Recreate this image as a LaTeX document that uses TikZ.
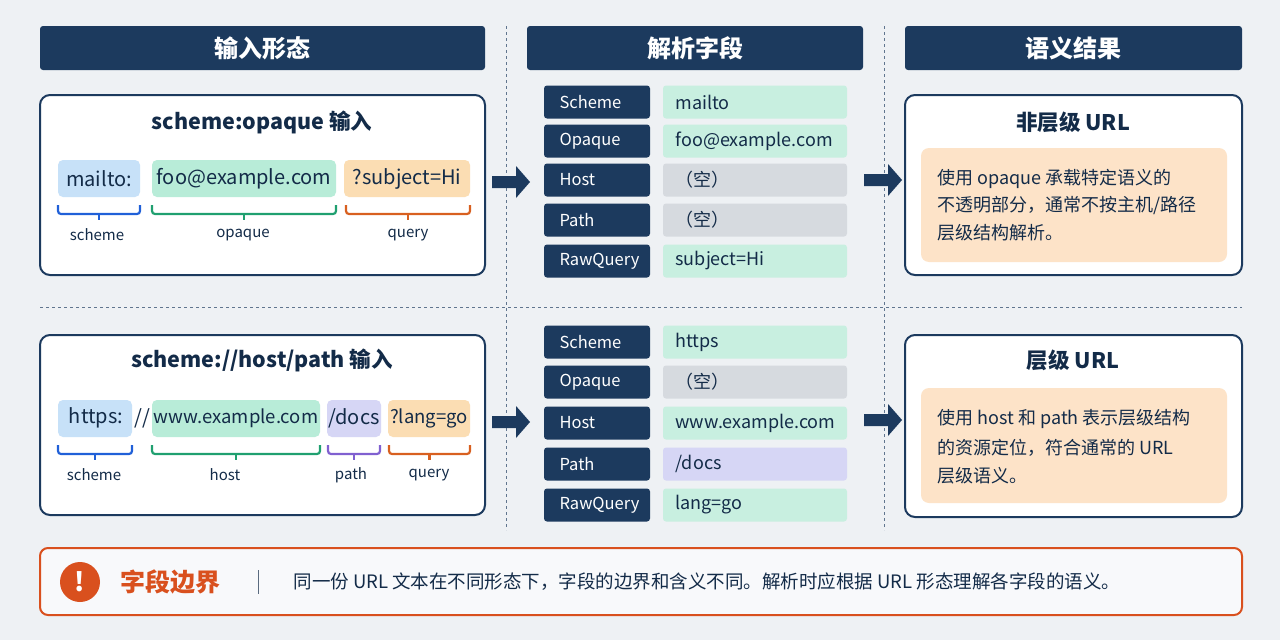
\documentclass[tikz,border=0pt]{standalone}
\usepackage{fontspec}
\setmainfont{Noto Sans CJK SC}
\definecolor{bg}{HTML}{EEF1F4}
\definecolor{navy}{HTML}{1C3A5E}
\definecolor{cblue}{HTML}{C7E1F8}
\definecolor{cgreen}{HTML}{B8ECD8}
\definecolor{corange}{HTML}{FBDDB3}
\definecolor{cpurple}{HTML}{D6D6F5}
\definecolor{cgray}{HTML}{D6DADF}
\definecolor{vgreen}{HTML}{C8EFE0}
\definecolor{peach}{HTML}{FDE3C8}
\definecolor{bblue}{HTML}{2060D8}
\definecolor{bgreen}{HTML}{20A070}
\definecolor{borange}{HTML}{D86020}
\definecolor{bpurple}{HTML}{8060D0}
\definecolor{txt}{HTML}{132B48}
\definecolor{warn}{HTML}{D9501E}
\newcommand{\fs}[1]{\fontsize{#1}{#1}\selectfont}
\newcommand{\brk}[4]{\draw[#1,line width=2.2pt,rounded corners=3pt] (#2,#4) -- (#2,#4+9) -- (#3,#4+9) -- (#3,#4);
 \draw[#1,line width=2.2pt] ({(#2+#3)/2},#4+8) -- ({(#2+#3)/2},#4+15);}
\begin{document}
\begin{tikzpicture}[x=1pt,y=-1pt,
 panel/.style={draw=navy,line width=2pt,fill=white,rounded corners=10pt},
 chip/.style={text=txt,font=\fs{20},inner sep=0pt},
 lab/.style={text=txt,font=\fs{15}},
 ttl/.style={text=txt,font=\fs{21.5}\bfseries},
 body/.style={text=txt,font=\fs{18},align=left}]
\fill[bg] (0,0) rectangle (1280,640);
\useasboundingbox (0,0) rectangle (1280,640);
% headers
\fill[navy,rounded corners=3pt] (40,26) rectangle (485,70);
\node[text=white,font=\fs{24}\bfseries] (h1) at (262,48) {输入形态};
\fill[navy,rounded corners=3pt] (527,26) rectangle (863,70);
\node[text=white,font=\fs{24}\bfseries] (h2) at (695,48) {解析字段};
\fill[navy,rounded corners=3pt] (905,26) rectangle (1242,70);
\node[text=white,font=\fs{24}\bfseries] (h3) at (1073,48) {语义结果};
% dashed separators
\draw[navy!70,dashed,line width=0.8pt] (506,26) -- (506,530) (884,26) -- (884,530) (40,307) -- (1242,307);
% left top panel
\draw[panel] (40,95) rectangle (485,275);
\node[ttl] (t1) at (262,122) {scheme:opaque 输入};
\fill[cblue,rounded corners=5pt] (58,160) rectangle (140,197);
\node[chip] (c1) at (99,179) {mailto:};
\fill[cgreen,rounded corners=5pt] (152,160) rectangle (336,197);
\node[chip] (c2) at (244,179) {foo@example.com};
\fill[corange,rounded corners=5pt] (344,160) rectangle (470,197);
\node[chip] (c3) at (407,179) {?subject=Hi};
\brk{bblue}{58}{140}{205}
\brk{bgreen}{152}{336}{205}
\brk{borange}{346}{470}{205}
\node[lab] (l1) at (97,235) {scheme};
\node[lab] (l2) at (243,235) {opaque};
\node[lab] (l3) at (408,235) {query};
% left bottom panel
\draw[panel] (40,335) rectangle (485,515);
\node[ttl] (t2) at (262,360) {scheme://host/path 输入};
\fill[cblue,rounded corners=5pt] (58,400) rectangle (132,437);
\node[chip] (d1) at (96,418) {https:};
\node[chip] (d0) at (142,418) {//};
\fill[cgreen,rounded corners=5pt] (152,400) rectangle (320,437);
\node[chip,font=\fs{18.5}] (d2) at (236,418) {www.example.com};
\fill[cpurple,rounded corners=5pt] (327,400) rectangle (381,437);
\node[chip] (d3) at (354,418) {/docs};
\fill[corange,rounded corners=5pt] (388,400) rectangle (470,437);
\node[chip,font=\fs{18.5}] (d4) at (429,418) {?lang=go};
\brk{bblue}{58}{132}{445}
\brk{bgreen}{152}{320}{445}
\brk{bpurple}{328}{380}{445}
\brk{borange}{389}{470}{445}
\node[lab] (m1) at (94,475) {scheme};
\node[lab] (m2) at (225,475) {host};
\node[lab] (m3) at (351,475) {path};
\node[lab] (m4) at (429,475) {query};
% big arrows
\foreach \x/\y in {492/182,492/422,864/180,864/420}{
 \fill[navy] (\x,\y-6) -- (\x+24,\y-6) -- (\x+24,\y-16) -- (\x+38,\y) -- (\x+24,\y+16) -- (\x+24,\y+6) -- (\x,\y+6) -- cycle;}
% middle fields
\foreach \k/\v/\c/\y in {Scheme/mailto/vgreen/102,Opaque/foo@example.com/vgreen/141,Host/（空）/cgray/180,Path/（空）/cgray/220,RawQuery/subject=Hi/vgreen/261,
 Scheme/https/vgreen/342,Opaque/（空）/cgray/382,Host/www.example.com/vgreen/423,Path/{/docs}/cpurple/464,RawQuery/lang=go/vgreen/505}{
 \fill[navy,rounded corners=3pt] (544,\y-16.5) rectangle (650,\y+16.5);
 \node[text=white,font=\fs{16.5},anchor=west] at (556,\y) {\k};
 \fill[\c,rounded corners=3pt] (663,\y-16.5) rectangle (847,\y+16.5);
 \node[text=txt,font=\fs{18},anchor=west] at (672,\y) {\v};}
% right panels
\draw[panel] (905,95) rectangle (1242,275);
\node[ttl] (r1) at (1073,122) {非层级 URL};
\fill[peach,rounded corners=8pt] (921,148) rectangle (1227,262);
\node[body,anchor=west] (b1) at (934,179) {使用 opaque 承载特定语义的};
\node[body,anchor=west] (b2) at (934,206) {不透明部分，通常不按主机/路径};
\node[body,anchor=west] (b3) at (934,233) {层级结构解析。};
\draw[panel] (905,335) rectangle (1242,517);
\node[ttl] (r2) at (1073,360) {层级 URL};
\fill[peach,rounded corners=8pt] (921,388) rectangle (1227,503);
\node[body,anchor=west] (e1) at (934,419) {使用 host 和 path 表示层级结构};
\node[body,anchor=west] (e2) at (934,448) {的资源定位，符合通常的 URL};
\node[body,anchor=west] (e3) at (934,476) {层级语义。};
% bottom bar
\draw[draw=warn,line width=2pt,fill=white!60!bg,rounded corners=8pt] (40,548) rectangle (1242,615);
\fill[warn] (80,582) circle (20);
\node[text=white,font=\fs{26}\bfseries] (ex) at (80,582) {!};
\node[text=warn,font=\fs{25}\bfseries] (wt) at (170,582) {字段边界};
\draw[txt!70,line width=1pt] (258,570) -- (258,594);
\node[text=txt,font=\fs{18.5},anchor=west] (wb) at (290,582) {同一份 URL 文本在不同形态下，字段的边界和含义不同。解析时应根据 URL 形态理解各字段的语义。};
\end{tikzpicture}
\end{document}
